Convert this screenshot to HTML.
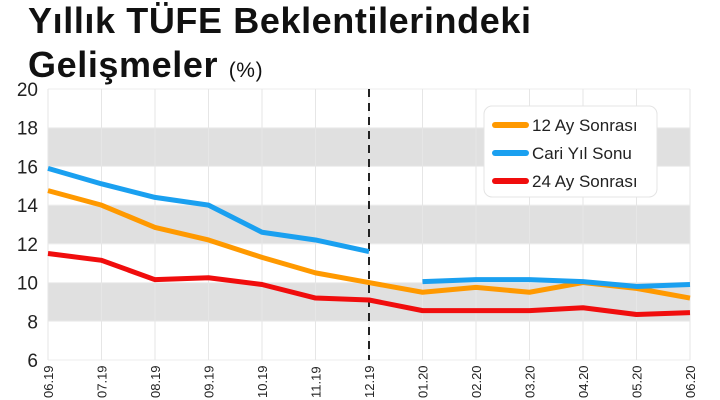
<!DOCTYPE html>
<html><head><meta charset="utf-8"><style>
body{margin:0;background:#fff;width:720px;height:400px;overflow:hidden;font-family:"Liberation Sans",sans-serif}
#t{position:absolute;left:28px;top:-1px;font-size:36px;font-weight:bold;line-height:44px;color:#111;letter-spacing:0.6px}
#t span{font-size:21px;font-weight:normal}
</style></head><body>
<div id="t">Yıllık TÜFE Beklentilerindeki<br>Gelişmeler <span>(%)</span></div>
<svg id="c" width="720" height="400" style="position:absolute;left:0;top:0"></svg>
<script>
const categories=["06.19","07.19","08.19","09.19","10.19","11.19","12.19","01.20","02.20","03.20","04.20","05.20","06.20"];
const yTicks=[6,8,10,12,14,16,18,20];
const bands=[[8,10],[12,14],[16,18]];
const s12=[14.75,14.0,12.85,12.2,11.3,10.5,10.0,9.5,9.75,9.5,10.0,9.7,9.2];
const cari=[15.9,15.1,14.4,14.0,12.6,12.2,11.6,10.05,10.15,10.15,10.05,9.8,9.9];
const s24=[11.5,11.15,10.15,10.25,9.9,9.2,9.1,8.55,8.55,8.55,8.7,8.35,8.45];
const NS="http://www.w3.org/2000/svg",svg=document.getElementById('c');
const x=i=>48+i*(642/12), y=v=>360-(v-6)*(271/14);
function el(t,a,p){const e=document.createElementNS(NS,t);for(const k in a)e.setAttribute(k,a[k]);(p||svg).appendChild(e);return e;}
bands.forEach(b=>{const r=el('rect',{x:48,y:y(b[1]),width:642,height:y(b[0])-y(b[1]),fill:'#e0e0e0'});

});
yTicks.forEach(v=>{const l=el('line',{x1:48,x2:690,y1:y(v),y2:y(v),stroke:'#eee','stroke-width':1});


const t=el('text',{x:38,y:y(v)+7,'text-anchor':'end','font-size':19,fill:'#222'});t.textContent=v;

});
categories.forEach((c,i)=>{const l=el('line',{x1:x(i),x2:x(i),y1:y(20),y2:y(6),stroke:'#e6e6e6','stroke-width':1});


const t=el('text',{transform:`translate(${x(i)+5},398) rotate(-90)`,'font-size':13,fill:'#222'});t.textContent=c;

});
const d=el('line',{x1:x(6),x2:x(6),y1:y(20),y2:y(6),stroke:'#222','stroke-width':2,'stroke-dasharray':'8,6'});


function line(arr,from,to,col,name){const p=[];for(let i=from;i<=to;i++)p.push(x(i)+','+y(arr[i]));
const e=el('polyline',{points:p.join(' '),fill:'none',stroke:col,'stroke-width':5,'stroke-linejoin':'round'});

}
line(s24,0,12,'#f00d0d','series-24-ay');
line(s12,0,12,'#ff9900','series-12-ay');
line(cari,0,6,'#1aa0f0','series-cari-yil-2019');
line(cari,7,12,'#1aa0f0','series-cari-yil-2020');
const g=el('g',{});
el('rect',{x:484,y:106,width:173,height:91,rx:8,fill:'#fff',stroke:'#e4e4e4'},g);
[['12 Ay Sonrası','#ff9900'],['Cari Yıl Sonu','#1aa0f0'],['24 Ay Sonrası','#f00d0d']].forEach((L,i)=>{
const yy=125+i*28;
const sw=el('line',{x1:495,x2:526,y1:yy,y2:yy,stroke:L[1],'stroke-width':6,'stroke-linecap':'round'},g);


const t=el('text',{x:532,y:yy+6,'font-size':17,fill:'#222'},g);t.textContent=L[0];

});
</script>
</body></html>
